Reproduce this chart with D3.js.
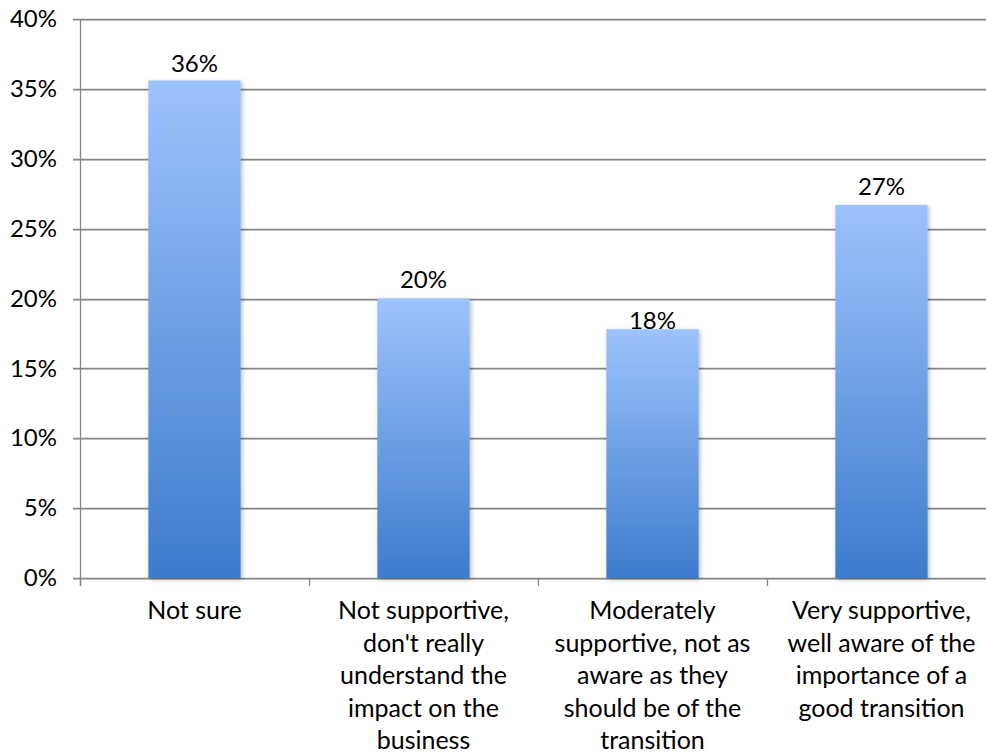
<!DOCTYPE html>
<html>
<head>
<meta charset="utf-8">
<script src="https://cdn.jsdelivr.net/npm/d3@7"></script>
<style>
  html, body { margin: 0; padding: 0; background: #fff; }
  svg { display: block; font-family: Lato, "Open Sans", sans-serif; }
</style>
</head>
<body>
<svg id="chart" width="986" height="754"></svg>
<script>
// Survey responses: how supportive stakeholders are of the transition
const categories = [
  ["Not sure"],
  ["Not supportive,", "don't really", "understand the", "impact on the", "business"],
  ["Moderately", "supportive, not as", "aware as they", "should be of the", "transition"],
  ["Very supportive,", "well aware of the", "importance of a", "good transition"]
];
const values = [35.6, 20.0, 17.8, 26.7];
const valueLabels = ["36%", "20%", "18%", "27%"];
const yTicks = [0, 5, 10, 15, 20, 25, 30, 35, 40];

// Layout
const W = 986, H = 754;
const plot = { left: 80, right: 996, top: 19, bottom: 578 };
const labelGap = [8, 11, 0, 10];   // space between bar top and its value label
const fontSize = 24;
const catFontSize = 25;
const lineHeight = 32.5;

const svg = d3.select("#chart");
const defs = svg.append("defs");

const grad = defs.append("linearGradient")
  .attr("id", "barFill").attr("x1", 0).attr("y1", 0).attr("x2", 0).attr("y2", 1);
grad.append("stop").attr("offset", "0%").attr("stop-color", "#9dc3fd");
grad.append("stop").attr("offset", "100%").attr("stop-color", "#3d7ccc");

const shadow = defs.append("filter").attr("id", "barShadow")
  .attr("x", "-20%").attr("y", "-5%").attr("width", "140%").attr("height", "115%");
shadow.append("feDropShadow")
  .attr("dx", 1.5).attr("dy", 1.5).attr("stdDeviation", 2)
  .attr("flood-color", "#000").attr("flood-opacity", 0.28);

const x = d3.scaleBand()
  .domain(d3.range(categories.length))
  .range([plot.left, plot.right])
  .paddingInner(0.597).paddingOuter(0.2985);

const y = d3.scaleLinear().domain([0, 40]).range([plot.bottom, plot.top]);

// Horizontal gridlines with a faint lower edge
const grid = svg.append("g");
yTicks.forEach(t => {
  const yy = Math.round(y(t));
  grid.append("line")
    .attr("x1", plot.left - 7).attr("x2", W)
    .attr("y1", yy + 1.5).attr("y2", yy + 1.5)
    .attr("stroke", "#cfcfcf").attr("stroke-width", 1);
  grid.append("line")
    .attr("x1", plot.left - 7).attr("x2", W)
    .attr("y1", yy + 0.5).attr("y2", yy + 0.5)
    .attr("stroke", "#868686").attr("stroke-width", 1.3);
});

// Y axis
const yAxis = d3.axisLeft(y).tickValues(yTicks).tickFormat(d => d + "%").tickSize(0).tickPadding(23);
const gy = svg.append("g").attr("transform", `translate(${plot.left},0)`).call(yAxis);
gy.select(".domain").remove();
gy.selectAll("text")
  .attr("font-size", fontSize).attr("fill", "#000")
  .attr("font-family", "Lato, 'Open Sans', sans-serif");
svg.append("line")
  .attr("x1", plot.left + 0.5).attr("x2", plot.left + 0.5)
  .attr("y1", plot.top).attr("y2", plot.bottom + 8)
  .attr("stroke", "#868686").attr("stroke-width", 1.3);

// X axis tick marks at band boundaries
const step = x.step();
d3.range(categories.length + 1).forEach(i => {
  const xx = Math.round(plot.left + i * step) + 0.5;
  svg.append("line")
    .attr("x1", xx).attr("x2", xx)
    .attr("y1", plot.bottom).attr("y2", plot.bottom + 8)
    .attr("stroke", "#868686").attr("stroke-width", 1.3);
});

// Bars
svg.append("g").selectAll("rect")
  .data(values)
  .join("rect")
  .attr("x", (d, i) => x(i))
  .attr("y", d => y(d))
  .attr("width", x.bandwidth())
  .attr("height", d => y(0) - y(d))
  .attr("fill", "url(#barFill)")
  .attr("filter", "url(#barShadow)");

// Value labels
svg.append("g").selectAll("text")
  .data(values)
  .join("text")
  .attr("x", (d, i) => x(i) + x.bandwidth() / 2)
  .attr("y", (d, i) => y(d) - labelGap[i])
  .attr("text-anchor", "middle")
  .attr("font-size", fontSize)
  .attr("fill", "#000")
  .text((d, i) => valueLabels[i]);

// Category labels
const cat = svg.append("g").selectAll("text")
  .data(categories)
  .join("text")
  .attr("x", (d, i) => x(i) + x.bandwidth() / 2)
  .attr("y", 619)
  .attr("text-anchor", "middle")
  .attr("font-size", catFontSize)
  .attr("fill", "#000");
cat.each(function(lines) {
  const t = d3.select(this);
  const cx = t.attr("x");
  lines.forEach((ln, k) => {
    t.append("tspan").attr("x", cx).attr("dy", k === 0 ? 0 : lineHeight).text(ln);
  });
});
</script>
</body>
</html>
